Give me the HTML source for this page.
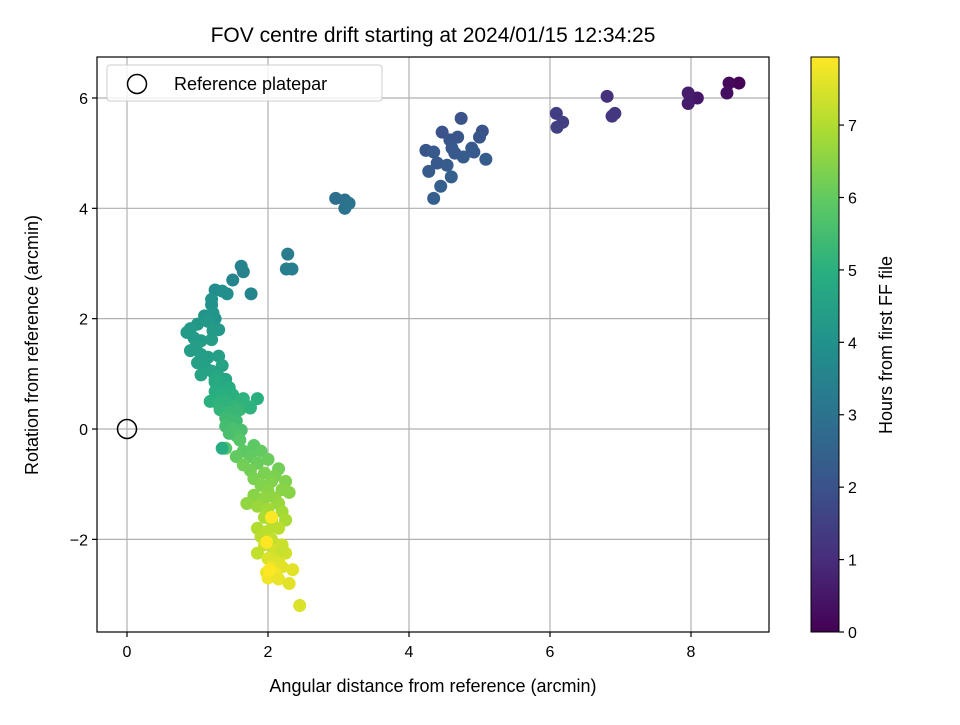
<!DOCTYPE html>
<html><head><meta charset="utf-8"><style>
body{margin:0;background:#fff;}
svg text{font-family:"Liberation Sans","DejaVu Sans",sans-serif;fill:#000;}
</style></head><body>
<svg id="chart" width="960" height="720" xmlns="http://www.w3.org/2000/svg">
<defs>
<linearGradient id="viridis" x1="0" y1="1" x2="0" y2="0">
<stop offset="0" stop-color="#440154"/><stop offset="0.125" stop-color="#472d7b"/><stop offset="0.25" stop-color="#3b528b"/><stop offset="0.375" stop-color="#2c728e"/><stop offset="0.5" stop-color="#21918c"/><stop offset="0.625" stop-color="#28ae80"/><stop offset="0.75" stop-color="#5ec962"/><stop offset="0.875" stop-color="#addc30"/><stop offset="1" stop-color="#fde725"/>
</linearGradient>
<clipPath id="plotclip"><rect x="97" y="57" width="672" height="575"/></clipPath>
</defs>
<text x="433" y="42" font-size="21" text-anchor="middle">FOV centre drift starting at 2024/01/15 12:34:25</text>
<g id="grid"></g>
<g id="points" clip-path="url(#plotclip)"></g>
<circle cx="127" cy="429" r="9.5" fill="none" stroke="#000" stroke-width="1.5"/>
<rect x="97" y="57" width="672" height="575" fill="none" stroke="#000" stroke-width="1.2"/>
<g id="axes"></g>
<text x="433" y="692" font-size="18" text-anchor="middle">Angular distance from reference (arcmin)</text>
<text transform="translate(38,345) rotate(-90)" font-size="18" text-anchor="middle">Rotation from reference (arcmin)</text>
<g>
<rect x="107" y="65" width="275" height="36" rx="3" fill="#fff" fill-opacity="0.8" stroke="#ccc"/>
<circle cx="137" cy="84" r="9.5" fill="none" stroke="#000" stroke-width="1.5"/>
<text x="174" y="90" font-size="18">Reference platepar</text>
</g>
<rect x="811" y="57" width="28" height="575" fill="url(#viridis)" stroke="#000" stroke-width="1"/>
<g id="cbaxis"></g>
<text transform="translate(892,345) rotate(-90)" font-size="18" text-anchor="middle">Hours from first FF file</text>
</svg>
<script>
const xTicks=[0,2,4,6,8];
const yTicks=[-2,0,2,4,6];
const cTicks=[0,1,2,3,4,5,6,7];
const refX=[8.68,8.54,8.51,8.09,7.96,7.96,6.81,6.88,6.92,6.09,6.18,6.1,
4.74,4.47,5.04,5.0,4.69,4.58,4.24,4.35,4.61,4.89,4.92,4.4,4.54,4.77,5.09,4.28,4.6,4.45,4.35,4.65,
2.96,3.09,3.15,3.09,2.28,2.26,2.34,1.62,1.65,1.5,1.76,
1.25,1.35,1.42,1.2,1.2,1.1,1.22,1.25,1.15,1.0,1.3,1.22,0.85,0.9,0.95,1.05,1.2,0.98,0.9,1.05,1.15,1.3,1.0,1.12,1.2,1.35,1.05,1.3,1.4,1.25,1.32,1.45,1.25,1.35,1.5,1.4,1.18,1.3,1.55,1.32,1.45,1.6,1.65,1.85,1.75,1.4,1.55,1.4,1.5,1.62,1.55,1.45,1.6,1.4,1.8,1.65,1.55,1.75,1.9,2.0,1.85,1.65,1.75,2.15,1.95,2.1,1.8,2.05,2.25,1.9,2.2,2.3,2.0,1.8,1.95,2.1,1.7,2.15,1.85,2.0,2.2,1.95,2.25,2.05,1.85,2.0,2.15,1.9,2.05,1.95,2.2,2.1,1.85,2.25,2.0,2.15,2.05,2.2,2.35,1.98,2.1,2.0,2.15,2.3,2.45,2.05,1.98,2.02,2.2,1.35,1.75,1.25];
const rotY=[6.27,6.27,6.09,6.0,6.09,5.9,6.03,5.67,5.72,5.72,5.56,5.47,
5.63,5.38,5.4,5.29,5.29,5.24,5.05,5.02,5.09,5.09,5.02,4.82,4.78,4.93,4.89,4.67,4.57,4.4,4.18,5.0,
4.18,4.15,4.09,4.0,3.17,2.9,2.9,2.95,2.85,2.7,2.45,
2.52,2.5,2.45,2.35,2.25,2.05,2.1,2.0,1.95,1.9,1.8,1.78,1.75,1.82,1.65,1.6,1.62,1.5,1.42,1.35,1.3,1.32,1.2,1.1,1.05,1.15,0.98,0.95,0.9,0.85,0.78,0.75,0.68,0.6,0.62,0.5,0.5,0.45,0.42,0.35,0.3,0.35,0.55,0.55,0.4,0.2,0.15,0.05,0.0,-0.02,-0.12,-0.08,-0.2,-0.35,-0.3,-0.4,-0.5,-0.5,-0.4,-0.55,-0.62,-0.65,-0.75,-0.72,-0.8,-0.85,-0.9,-0.95,-0.95,-1.02,-1.1,-1.15,-1.12,-1.2,-1.25,-1.25,-1.35,-1.35,-1.4,-1.45,-1.5,-1.6,-1.65,-1.65,-1.8,-1.85,-1.8,-1.95,-2.0,-2.1,-2.1,-2.2,-2.25,-2.25,-2.35,-2.4,-2.5,-2.5,-2.55,-2.6,-2.62,-2.7,-2.72,-2.8,-3.2,-1.6,-2.05,-2.55,-2.2,-0.35,0.38,0.9];
const hours=[0.1,0.2,0.3,0.5,0.6,0.6,1.1,1.2,1.25,1.4,1.5,1.5,
2.0,2.0,2.0,2.1,2.1,2.1,2.1,2.2,2.2,2.2,2.2,2.2,2.3,2.3,2.3,2.3,2.4,2.4,2.4,2.2,
2.9,2.9,3.0,3.0,3.3,3.4,3.4,3.5,3.5,3.6,3.6,
3.8,3.9,3.9,4.0,4.0,4.1,4.1,4.1,4.2,4.2,4.2,4.3,4.3,4.3,4.3,4.3,4.35,4.4,4.4,4.4,4.4,4.5,4.5,4.5,4.6,4.6,4.6,4.7,4.7,4.8,4.8,4.9,4.9,5.0,5.0,5.1,5.0,5.1,5.2,5.2,5.3,5.3,5.1,5.0,5.2,5.4,5.4,5.5,5.6,5.6,5.7,5.6,5.8,5.8,5.9,5.9,6.0,6.0,6.0,6.1,6.1,6.2,6.2,6.2,6.3,6.3,6.3,6.4,6.4,6.4,6.5,6.5,6.5,6.5,6.6,6.6,6.6,6.7,6.7,6.8,6.8,6.9,6.9,7.0,7.0,7.1,7.1,7.1,7.2,7.3,7.3,7.4,7.2,7.4,7.5,7.5,7.7,7.6,7.6,7.7,7.8,7.8,7.7,7.6,7.5,7.9,7.95,7.99,7.3,4.9,5.1,4.8];
const NS="http://www.w3.org/2000/svg";
const xS=v=>127+v*70.5;
const yS=v=>429-v*55.17;
const cMax=7.94;
const cS=v=>632-v/cMax*575;
const stops=[[0,[68,1,84]],[0.125,[71,45,123]],[0.25,[59,82,139]],[0.375,[44,114,142]],[0.5,[33,145,140]],[0.625,[40,174,128]],[0.75,[94,201,98]],[0.875,[173,220,48]],[1,[253,231,37]]];
function viridis(t){t=Math.max(0,Math.min(1,t));for(let i=1;i<stops.length;i++){if(t<=stops[i][0]){const a=stops[i-1],b=stops[i],f=(t-a[0])/(b[0]-a[0]);return 'rgb('+a[1].map((c,k)=>Math.round(c+(b[1][k]-c)*f)).join(',')+')';}}return 'rgb(253,231,37)';}
function mk(tag,attrs,parent){const e=document.createElementNS(NS,tag);for(const k in attrs)e.setAttribute(k,attrs[k]);parent.appendChild(e);return e;}
const grid=document.getElementById('grid'),axes=document.getElementById('axes');
xTicks.forEach(v=>{const x=xS(v);
const g=mk('line',{x1:x,x2:x,y1:57,y2:632,stroke:'#b0b0b0','stroke-width':1.2},grid);


const t=mk('line',{x1:x,x2:x,y1:632,y2:637,stroke:'#000','stroke-width':1.2},axes);


const l=mk('text',{x:x,y:657,'font-size':16,'text-anchor':'middle'},axes);l.textContent=String(v);

});
yTicks.forEach(v=>{const y=yS(v);
const g=mk('line',{x1:97,x2:769,y1:y,y2:y,stroke:'#b0b0b0','stroke-width':1.2},grid);


const t=mk('line',{x1:92,x2:97,y1:y,y2:y,stroke:'#000','stroke-width':1.2},axes);


const l=mk('text',{x:88,y:y+6,'font-size':16,'text-anchor':'end'},axes);l.textContent=(v<0?'\u2212'+(-v):String(v));

});
const pts=document.getElementById('points');
hours.forEach((h,i)=>{const c=mk('circle',{cx:xS(refX[i]),cy:yS(rotY[i]),r:6.5,fill:viridis(hours[i]/cMax)},pts);

});
const cb=document.getElementById('cbaxis');
cTicks.forEach(v=>{const y=cS(v);
const t=mk('line',{x1:839,x2:844,y1:y,y2:y,stroke:'#000','stroke-width':1.2},cb);


const l=mk('text',{x:848,y:y+6,'font-size':16},cb);l.textContent=String(v);

});
</script>
</body></html>
